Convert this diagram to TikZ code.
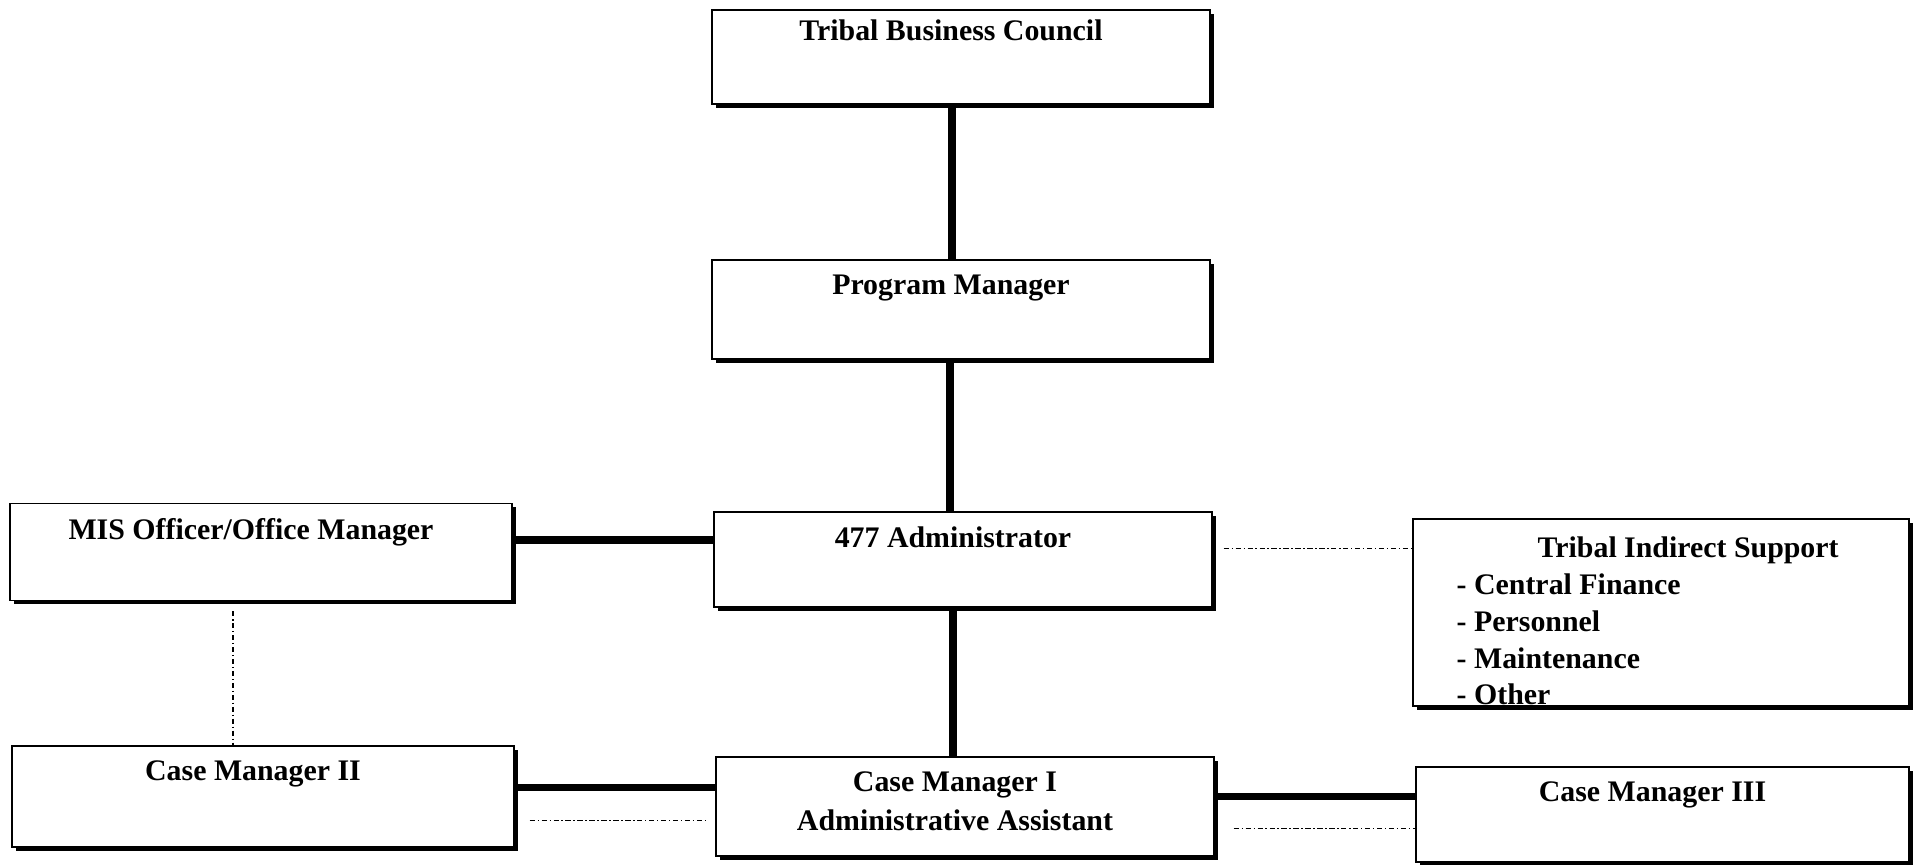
\documentclass[tikz,border=0pt]{standalone}
\usepackage{fontspec}
\setmainfont{Liberation Serif}
\usepackage{tikz}
\usetikzlibrary{shadows}

\begin{document}
\begin{tikzpicture}[
    x=0.02cm, y=-0.02cm,
    box/.style={
        rectangle,
        draw=black,
        line width=0.8pt,
        fill=white,
        minimum width=9.96cm,
        minimum height=1.9cm,
        inner sep=0pt,
        drop shadow={shadow xshift=2.2pt, shadow yshift=-2.2pt, opacity=1, fill=black}
    },
    title/.style={
        anchor=north,
        xshift=-0.2cm,
        yshift=-0.3cm,
        inner sep=0pt,
        align=center,
        font=\fontsize{17}{22.5}\selectfont\bfseries
    },
    link/.style={
        line width=4pt
    },
    relation/.style={
        line width=0.7pt,
        dash pattern=on 3pt off 1.5pt on 0.8pt off 1.5pt
    }
]
\useasboundingbox (0,0) rectangle (1924,865);

% Middle column
\node[box, minimum height=1.88cm, label={[title, yshift=0.1cm]north:Tribal Business Council}] (council) at (961,57) {};
\node[box, minimum height=1.98cm, label={[title]north:Program Manager}] (manager) at (961,309.5) {};
\node[box, label={[title]north:477 Administrator}] (admin) at (963,559.5) {};
\node[box, minimum height=1.98cm, label={[title]north:Case Manager I\\Administrative Assistant}] (cm1) at (965,806.5) {};

% Left column
\node[box, minimum width=10.04cm, minimum height=1.94cm, label={[title]north:MIS Officer/Office Manager}] (mis) at (261,552) {};
\node[box, minimum width=10.04cm, minimum height=2.02cm, label={[title]north:Case Manager II}] (cm2) at (263,796.5) {};

% Right column
\node[box, minimum width=9.92cm, minimum height=3.74cm,
      label={[title, anchor=north west, align=left, xshift=1.08cm, yshift=-0.06cm, font=\fontsize{17}{21}\selectfont\bfseries]north west:\hspace*{1.62cm}Tribal Indirect Support\\- Central Finance\\- Personnel\\- Maintenance\\- Other}] (tis) at (1661,612.5) {};
\node[box, minimum width=9.86cm, label={[title]north:Case Manager III}] (cm3) at (1662.5,814.5) {};

% Solid lines
\draw[link] ([xshift=-0.18cm]council.south) -- ([xshift=-0.18cm]council.south |- manager.north);
\draw[link] ([xshift=-0.22cm]manager.south) -- ([xshift=-0.22cm]manager.south |- admin.north);
\draw[link] ([xshift=-0.2cm]admin.south) -- ([xshift=-0.2cm]admin.south |- cm1.north);
\draw[link] ([yshift=0.24cm]mis.east) -- ([yshift=0.24cm]mis.east -| admin.west);
\draw[link] ([yshift=0.18cm]cm2.east) -- ([yshift=0.18cm]cm2.east -| cm1.west);
\draw[link] ([yshift=0.2cm]cm1.east) -- ([yshift=0.2cm]cm1.east -| cm3.west);

% Dash-dot lines
\draw[relation] ([xshift=-0.56cm, yshift=-0.2cm]mis.south) -- ([xshift=-0.56cm]mis.south |- cm2.north);
\draw[relation] ([xshift=0.22cm, yshift=0.22cm]admin.east) -- ([yshift=0.22cm]admin.east -| tis.west);
\draw[relation] ([xshift=0.3cm, yshift=-0.48cm]cm2.east) -- ([xshift=-0.18cm, yshift=-0.48cm]cm2.east -| cm1.west);
\draw[relation] ([xshift=0.38cm, yshift=-0.44cm]cm1.east) -- ([yshift=-0.44cm]cm1.east -| cm3.west);

\end{tikzpicture}
\end{document}
